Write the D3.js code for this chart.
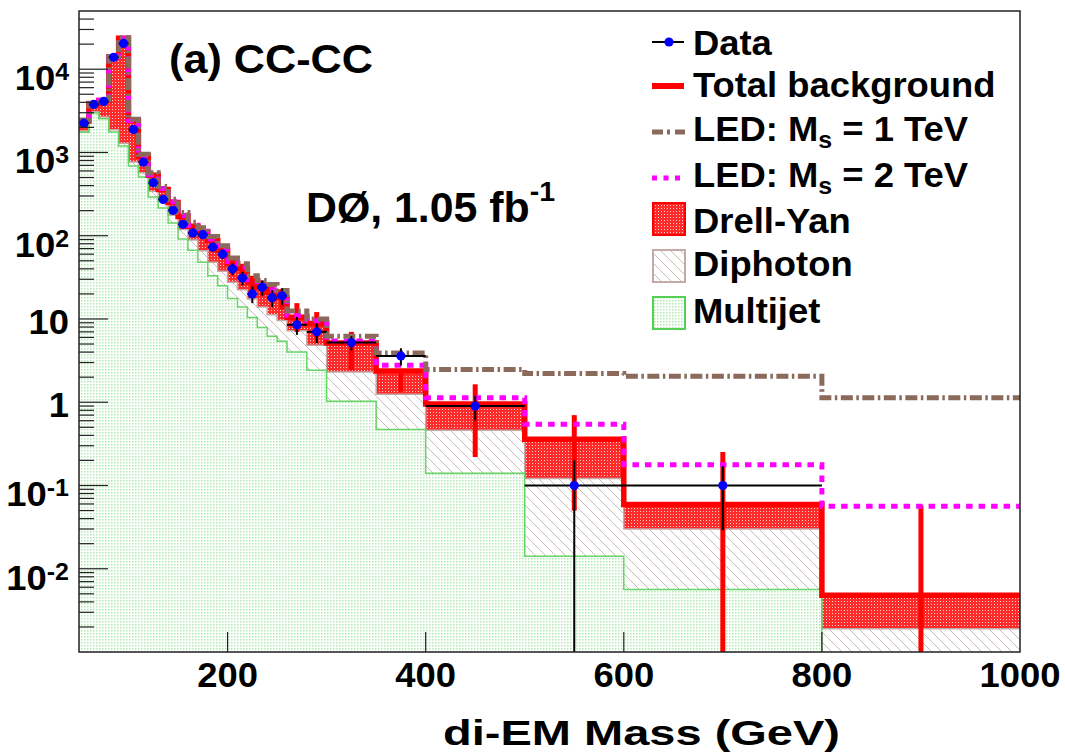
<!DOCTYPE html>
<html>
<head>
<meta charset="utf-8">
<script src="https://cdn.jsdelivr.net/npm/d3@7"></script>
<style>
body { margin: 0; background: #fff; }
text { font-family: "Liberation Sans", Arial, sans-serif; font-weight: bold; fill: #000; }
</style>
</head>
<body>
<svg id="chart" width="1065" height="756"></svg>
<script>
// bin edges in GeV (variable width above 260)
var binEdges = [50, 60, 70, 80, 90, 100, 110, 120, 130, 140, 150, 160, 170, 180, 190, 200,
                210, 220, 230, 240, 250, 260, 280, 300, 350, 400, 500, 600, 800, 1000];

// events / 10 GeV, one value per bin
var dataVals = [2250, 3780, 4100, 13900, 20400, 1890, 767, 434, 273, 202, 137, 108, 103, 73, 60,
                40, 31, 20, 24, 18, 19, 8.5, 7.0, 5.2, 3.6, 0.9, 0.1, 0.1, null];
var dataErr  = [47, 61, 64, 118, 143, 43, 28, 21, 16.5, 14.2, 11.7, 10.4, 10.1, 8.5, 7.7,
                6.3, 5.6, 4.5, 4.9, 4.2, 4.4, 2.06, 1.87, 1.02, 0.85, 0.3, 0.1, 0.071, null];

var multijet = [1750, 2970, 2545, 1760, 1194, 687, 507, 291, 215, 142, 91, 67, 48, 33, 25,
                17.6, 13.9, 10.4, 7.9, 6.2, 5.4, 4.0, 2.42, 1.03, 0.47, 0.14, 0.0141, 0.00565, 0.0005];
var diphoton = [60, 110, 130, 120, 100, 80, 65, 52, 42, 34, 28, 22, 18, 15, 12.5,
                10, 8.5, 7, 6, 5, 4.2, 3.2, 2.4, 1.28, 0.78, 0.32, 0.107, 0.0244, 0.0014];
var drellYan = [580, 770, 1520, 12100, 22200, 1630, 330, 190, 103, 74, 51, 41, 44, 40, 29.5,
                19.4, 17.6, 10.6, 10.1, 9.8, 8.4, 3.3, 4.0, 2.84, 1.12, 0.49, 0.239, 0.029, 0.0029];

// background uncertainty drawn as red bars (low, high)
var bkgErrLo = [null, null, null, null, null, null, null, null, null, null, null, null, null, null, null,
                40, 34, 22, 19, 16, 13, 7, 6, 2.42, 1.33, 0.22, 0.05, 0, 0];
var bkgErrHi = [null, null, null, null, null, null, null, null, null, null, null, null, null, null, null,
                54, 46, 33, 29, 26, 23, 15.5, 12.1, 7.0, 2.42, 1.64, 0.70, 0.253, 0.058];

var led1 = [2450, 3900, 4300, 14200, 23800, 2500, 950, 570, 390, 275, 190, 145, 125, 98, 76,
            54, 46, 33, 29, 26, 22, 12.5, 10, 6.2, 3.9, 2.47, 2.21, 2.05, 1.13];
var led2 = [2420, 3870, 4230, 14050, 23600, 2420, 910, 540, 368, 256, 175, 134, 113, 91, 69,
            49, 42, 29.5, 25.5, 22.5, 19.5, 11, 9.5, 5.44, 2.78, 1.13, 0.545, 0.177, 0.0564];

var xTicks = [200, 400, 600, 800, 1000];
var yTickVals = [1e4, 1e3, 100, 10, 1, 0.1, 0.01];
var yTickBase = ['10', '10', '10', '10', '1', '10', '10'];
var yTickExp  = ['4', '3', '2', '', '', '-1', '-2'];

var legendLabels = ['Data', 'Total background', 'LED: M', 'LED: M', 'Drell-Yan', 'Diphoton', 'Multijet'];

var svg = d3.select('#chart');
var frameL = 79, frameR = 1020, frameT = 11, frameB = 652;
var floorVal = 1e-5;

var x = d3.scaleLinear().domain([50, 1000]).range([frameL, frameR]);
var y = d3.scaleLog().domain([1e-3, 5e4]).range([frameB, frameT]);
function yv(v) { return y(Math.max(v, floorVal)); }

var defs = svg.append('defs');

var pm = defs.append('pattern').attr('id', 'mjFill').attr('patternUnits', 'userSpaceOnUse')
             .attr('width', 3).attr('height', 3);
pm.append('rect').attr('width', 3).attr('height', 3).attr('fill', '#fff');
pm.append('rect').attr('width', 1.5).attr('height', 1.5).attr('fill', '#b0e8b0');

var pg = defs.append('pattern').attr('id', 'ggFill').attr('patternUnits', 'userSpaceOnUse')
             .attr('width', 10).attr('height', 10);
pg.append('rect').attr('width', 10).attr('height', 10).attr('fill', '#fff');
pg.append('path').attr('d', 'M0,0L10,10M-5,5L5,15M5,-5L15,5')
  .attr('stroke', '#c9b9b9').attr('stroke-width', 1);

// red checker with small white holes
var pd = defs.append('pattern').attr('id', 'dyFill').attr('patternUnits', 'userSpaceOnUse')
             .attr('width', 3).attr('height', 3);
pd.append('rect').attr('width', 3).attr('height', 3).attr('fill', '#ff2a2a');
pd.append('rect').attr('x', 1).attr('y', 1).attr('width', 1).attr('height', 1).attr('fill', '#ffd0d0');

defs.append('clipPath').attr('id', 'plotClip').append('rect')
    .attr('x', frameL).attr('y', frameT).attr('width', frameR - frameL).attr('height', frameB - frameT);

var bins = dataVals.map(function(v, i) {
	return { lo: binEdges[i], hi: binEdges[i + 1], mj: multijet[i], gg: diphoton[i], dy: drellYan[i] };
});
var n = bins.length;
var layers = d3.stack().keys(['mj', 'gg', 'dy'])(bins);

// points on every bin edge, last bin repeated so the step closes at 1000
function edgePts(get) {
	var pts = bins.map(function(b, i) { return { x: b.lo, d: get(i) }; });
	pts.push({ x: bins[n - 1].hi, d: get(n - 1) });
	return pts;
}

var area = d3.area().curve(d3.curveStepAfter)
	.x(function(d) { return x(d.x); })
	.y0(function(d) { return yv(d.d[0]); })
	.y1(function(d) { return yv(d.d[1]); });

var step = d3.line().curve(d3.curveStepAfter)
	.x(function(d) { return x(d.x); })
	.y(function(d) { return yv(d.d); });

var plot = svg.append('g').attr('clip-path', 'url(#plotClip)');

var fills = ['url(#mjFill)', 'url(#ggFill)', 'url(#dyFill)'];
layers.forEach(function(layer, k) {
	plot.append('path')
		.attr('d', area(edgePts(function(i) { return layer[i]; })))
		.attr('fill', fills[k]);
});

// outlines of the stack
plot.append('path')
	.attr('d', step(edgePts(function(i) { return layers[1][i][1]; })))
	.attr('fill', 'none').attr('stroke', '#c4a9a9').attr('stroke-width', 1.5);
plot.append('path')
	.attr('d', step(edgePts(function(i) { return layers[0][i][1]; })))
	.attr('fill', 'none').attr('stroke', '#66d466').attr('stroke-width', 1.5);

// total background
plot.append('path')
	.attr('d', step(edgePts(function(i) { return layers[2][i][1]; })))
	.attr('fill', 'none').attr('stroke', '#ff0000').attr('stroke-width', 5.5);

bins.forEach(function(b, i) {
	if (bkgErrHi[i] == null) return;
	var cx = x((b.lo + b.hi) / 2);
	plot.append('line')
		.attr('x1', cx).attr('x2', cx)
		.attr('y1', yv(bkgErrLo[i])).attr('y2', yv(bkgErrHi[i]))
		.attr('stroke', '#ff0000').attr('stroke-width', 5);
});

plot.append('path')
	.attr('d', step(edgePts(function(i) { return led2[i]; })))
	.attr('fill', 'none').attr('stroke', '#ff00ff').attr('stroke-width', 5)
	.attr('stroke-dasharray', '6.5,6');

plot.append('path')
	.attr('d', step(edgePts(function(i) { return led1[i]; })))
	.attr('fill', 'none').attr('stroke', '#8b6a5c').attr('stroke-width', 5)
	.attr('stroke-dasharray', '12,3.5,2.5,3.5');

// data
var pts = plot.append('g');
bins.forEach(function(b, i) {
	if (dataVals[i] == null) return;
	var cx = x((b.lo + b.hi) / 2), cy = y(dataVals[i]);
	pts.append('line')
		.attr('x1', x(b.lo)).attr('x2', x(b.hi)).attr('y1', cy).attr('y2', cy)
		.attr('stroke', '#000').attr('stroke-width', 2);
	pts.append('line')
		.attr('x1', cx).attr('x2', cx)
		.attr('y1', yv(dataVals[i] - dataErr[i])).attr('y2', yv(dataVals[i] + dataErr[i]))
		.attr('stroke', '#000').attr('stroke-width', 2);
	pts.append('circle').attr('cx', cx).attr('cy', cy).attr('r', 4.6).attr('fill', '#0000ff');
});

// frame and ticks
var axes = svg.append('g').attr('stroke', '#222');
axes.append('rect')
	.attr('x', frameL).attr('y', frameT).attr('width', frameR - frameL).attr('height', frameB - frameT)
	.attr('fill', 'none').attr('stroke-width', 1.5);

var minor = [];
for (var e = -3; e <= 4; e++) {
	for (var k = 2; k <= 9; k++) {
		var mv = k * Math.pow(10, e);
		if (mv < 5e4) minor.push(mv);
	}
}
axes.selectAll('.ymin').data(minor).enter().append('line')
	.attr('x1', frameL).attr('x2', frameL + 15)
	.attr('y1', function(d) { return y(d); }).attr('y2', function(d) { return y(d); })
	.attr('stroke-width', 1.2);
axes.selectAll('.ymaj').data(yTickVals).enter().append('line')
	.attr('x1', frameL).attr('x2', frameL + 29)
	.attr('y1', function(d) { return y(d); }).attr('y2', function(d) { return y(d); })
	.attr('stroke-width', 1.2);
axes.selectAll('.xmaj').data(xTicks.slice(0, -1)).enter().append('line')
	.attr('x1', function(d) { return x(d); }).attr('x2', function(d) { return x(d); })
	.attr('y1', frameB).attr('y2', frameB - 20)
	.attr('stroke-width', 1.2);

function label(parent, px, py, size, anchor, sx) {
	return parent.append('text')
		.attr('transform', 'translate(' + px + ',' + py + ') scale(' + (sx || 1.04) + ',1)')
		.attr('font-size', size).attr('text-anchor', anchor || 'start');
}

xTicks.forEach(function(t) {
	label(svg, x(t), 687, 35, 'middle').text(t);
});

yTickVals.forEach(function(v, i) {
	var t = label(svg, 69, y(v) + (yTickExp[i] ? 21 : 15), 35, 'end');
	t.append('tspan').text(yTickBase[i]);
	if (yTickExp[i]) t.append('tspan').attr('font-size', 24).attr('dy', -10).text(yTickExp[i]);
});

label(svg, 443, 745, 35, 'start', 1).attr('textLength', 397).attr('lengthAdjust', 'spacingAndGlyphs')
	.text('di-EM Mass (GeV)');

label(svg, 169, 73, 40, 'start', 1).attr('textLength', 204).attr('lengthAdjust', 'spacingAndGlyphs')
	.text('(a) CC-CC');

var lumi = label(svg, 306, 222, 42, 'start', 1.02);
lumi.append('tspan').text('DØ, 1.05 fb');
lumi.append('tspan').attr('font-size', 28).attr('dy', -21).text('-1');

// legend
var lg = svg.append('g');
var lx = 693;
var baselines = [55, 97, 141, 187, 233, 276, 323];

lg.append('line').attr('x1', 652).attr('x2', 684).attr('y1', 42).attr('y2', 42)
  .attr('stroke', '#000').attr('stroke-width', 2);
lg.append('circle').attr('cx', 669).attr('cy', 42).attr('r', 4.6).attr('fill', '#0000ff');
lg.append('line').attr('x1', 652).attr('x2', 684).attr('y1', 86).attr('y2', 86)
  .attr('stroke', '#ff0000').attr('stroke-width', 6);
lg.append('line').attr('x1', 652).attr('x2', 685).attr('y1', 132).attr('y2', 132)
  .attr('stroke', '#8b6a5c').attr('stroke-width', 5).attr('stroke-dasharray', '11,4,3,5,11');
lg.append('line').attr('x1', 652).attr('x2', 685).attr('y1', 178).attr('y2', 178)
  .attr('stroke', '#ff00ff').attr('stroke-width', 5).attr('stroke-dasharray', '5,6.5');

var boxes = [
	{ y: 203, fill: 'url(#dyFill)', stroke: '#ff0000' },
	{ y: 250, fill: 'url(#ggFill)', stroke: '#c4a9a9' },
	{ y: 297, fill: 'url(#mjFill)', stroke: '#55d055' }
];
boxes.forEach(function(b) {
	lg.append('rect').attr('x', 653).attr('y', b.y).attr('width', 32).attr('height', 32)
	  .attr('fill', b.fill).attr('stroke', b.stroke).attr('stroke-width', 2);
});

legendLabels.forEach(function(s, i) {
	var t = label(lg, lx, baselines[i], 35, 'start');
	t.append('tspan').text(s);
	if (i == 2 || i == 3) {
		t.append('tspan').attr('font-size', 24).attr('dy', 7).text('s');
		t.append('tspan').attr('dy', -7).text(i == 2 ? ' = 1 TeV' : ' = 2 TeV');
	}
});
</script>
</body>
</html>
